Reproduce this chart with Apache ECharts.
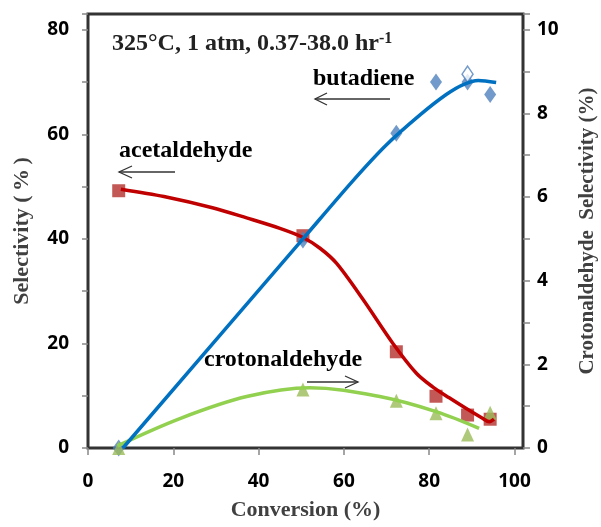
<!DOCTYPE html>
<html>
<head>
<meta charset="utf-8">
<script src="https://cdn.jsdelivr.net/npm/echarts@6/dist/echarts.min.js"></script>
<style>html,body{margin:0;padding:0;background:#fff;}#c{width:601px;height:527px;}</style>
</head>
<body>
<div id="c"></div>
<script>
// measured points
var conversion = [7.2, 50.4, 72.3, 81.6, 89, 94.3];
var acetaldehyde = [49.2, 40.6, 18.4, 9.9, 6.3, 5.5];
var butadiene = [0, 39.8, 60.2, 70, 70, 67.6];
var butadieneRepeatX = [89];
var butadieneRepeat = [71.5];
var crotonaldehyde = [0, 1.4, 1.13, 0.83, 0.32, 0.84];

// fitted trend curves
var acetFitX = [7.7, 17.8, 29.4, 37.2, 45, 50.3, 54.4, 58.3, 64.5, 71.5, 77, 80.8, 84.7, 88.6, 92.5, 94.1, 95.2];
var acetFitY = [49.5, 48.1, 45.9, 44.0, 42.0, 40.3, 38.2, 35.3, 28.4, 20, 14.3, 11.7, 9.6, 7.6, 5.7, 5.0, 5.5];
var butaFitX = [8.2, 50.4, 62, 70, 78, 84, 88, 91.5, 95.7];
var butaFitY = [0, 40, 51, 58, 63.8, 67.6, 69.5, 70.3, 69.9];
var crotFitX = [6.9, 21.7, 37.2, 52, 68.4, 81.6, 91.7];
var crotFitY = [0.05, 0.71, 1.23, 1.44, 1.23, 0.87, 0.47];

var xTicks = [0, 20, 40, 60, 80, 100];
var yLeftTicks = [0, 20, 40, 60, 80];
var yRightTicks = [0, 2, 4, 6, 8, 10];

function zip(a, b) { return a.map(function (v, i) { return [v, b[i]]; }); }

var tickFont = { fontFamily: 'Open Sans', fontWeight: 'bold', fontSize: 19, color: '#000' };
var serif = '"Liberation Serif", "Times New Roman", serif';

var chart = echarts.init(document.getElementById('c'), null, { renderer: 'canvas' });
chart.setOption({
  animation: false,
  backgroundColor: '#fff',
  grid: { left: 88, right: 78, top: 14, bottom: 79, show: true, borderColor: '#333', borderWidth: 3,
    backgroundColor: 'transparent', containLabel: false, outerBoundsMode: 'none' },
  xAxis: {
    type: 'value', min: 0, max: 102, interval: 20,
    name: 'Conversion (%)', nameLocation: 'middle', nameGap: 51,
    nameTextStyle: { fontFamily: serif, fontWeight: 'bold', fontSize: 22, color: '#404040' },
    axisLine: { show: false },
    axisTick: { show: true, length: 7, lineStyle: { color: '#888', width: 1.5 } },
    axisLabel: Object.assign({ margin: 24, showMaxLabel: false, formatter: function (v) { return xTicks.indexOf(v) >= 0 ? String(v) : ''; } }, tickFont),
    splitLine: { show: false }
  },
  yAxis: [{
    type: 'value', min: 0, max: 83, interval: 10,
    name: 'Selectivity (\u2009%\u2009)', nameLocation: 'middle', nameGap: 55, nameRotate: 90,
    nameTextStyle: { fontFamily: serif, fontWeight: 'bold', fontSize: 22, color: '#404040' },
    axisLine: { show: false },
    axisTick: { show: true, length: 6, lineStyle: { color: '#888', width: 1.5 } },
    axisLabel: Object.assign({ margin: 19, formatter: function (v) { return yLeftTicks.indexOf(v) >= 0 ? String(v) : ''; } }, tickFont),
    splitLine: { show: false }
  }, {
    type: 'value', min: 0, max: 10.375, interval: 1, position: 'right',
    name: 'Crotonaldehyde  Selectivity (%)', nameLocation: 'middle', nameGap: 54, nameRotate: 90,
    nameTextStyle: { fontFamily: serif, fontWeight: 'bold', fontSize: 21, color: '#404040' },
    axisLine: { show: false },
    axisTick: { show: true, length: 7, lineStyle: { color: '#888', width: 1.5 } },
    axisLabel: Object.assign({ margin: 14, formatter: function (v) { return yRightTicks.indexOf(v) >= 0 ? String(v) : ''; } }, tickFont),
    splitLine: { show: false }
  }],
  series: [
    { name: 'acetaldehyde', type: 'scatter', data: zip(conversion, acetaldehyde), symbol: 'rect', symbolSize: 13, clip: false,
      itemStyle: { color: '#C0504D', opacity: 0.95 } },
    { name: 'acetaldehyde fit', type: 'line', data: zip(acetFitX, acetFitY), smooth: 0.3, showSymbol: false, clip: false,
      lineStyle: { color: '#C00000', width: 3.5 } },
    { name: 'butadiene', type: 'scatter', data: zip(conversion, butadiene), symbol: 'diamond', symbolSize: [12, 17], clip: false,
      itemStyle: { color: '#4F81BD' } },
    { name: 'butadiene repeat', type: 'scatter', data: zip(butadieneRepeatX, butadieneRepeat), symbol: 'diamond', symbolSize: [11, 16], clip: false,
      itemStyle: { color: '#fff', borderColor: '#4F81BD', borderWidth: 1.5 } },
    { name: 'crotonaldehyde fit', type: 'line', yAxisIndex: 1, data: zip(crotFitX, crotFitY), smooth: 0.35, showSymbol: false, clip: false,
      lineStyle: { color: '#92D050', width: 3.5 } },
    { name: 'crotonaldehyde', type: 'scatter', yAxisIndex: 1, data: zip(conversion, crotonaldehyde), symbol: 'triangle', symbolSize: [13, 14], clip: false,
      itemStyle: { color: '#9BBB59' } },
    { name: 'butadiene fit', type: 'line', data: zip(butaFitX, butaFitY), smooth: 0.3, showSymbol: false, clip: false,
      lineStyle: { color: '#0070C0', width: 3.5 } }
  ],
  graphic: [
    { type: 'text', left: 112, top: 31, z: 100,
      style: { text: '{m|325°C, 1 atm, 0.37-38.0 hr}{s|-1}', rich: {
        m: { fontFamily: serif, fontWeight: 'bold', fontSize: 24, lineHeight: 26, fill: '#222' },
        s: { fontFamily: serif, fontWeight: 'bold', fontSize: 16, lineHeight: 20, verticalAlign: 'top', fill: '#222' } } } },
    { type: 'text', x: 313, y: 79, z: 100, style: { text: 'butadiene', font: 'bold 24px ' + serif, fill: '#000', verticalAlign: 'middle' } },
    { type: 'text', x: 119, y: 151, z: 100, style: { text: 'acetaldehyde', font: 'bold 24px ' + serif, fill: '#000', verticalAlign: 'middle' } },
    { type: 'text', x: 204, y: 360, z: 100, style: { text: 'crotonaldehyde', font: 'bold 24px ' + serif, fill: '#000', verticalAlign: 'middle' } },
    { type: 'polyline', z: 100, shape: { points: [[390, 99], [315, 99]] }, style: { stroke: '#333', lineWidth: 1.3, fill: null } },
    { type: 'polyline', z: 100, shape: { points: [[327, 93], [315, 99], [327, 105]] }, style: { stroke: '#333', lineWidth: 1.3, fill: null } },
    { type: 'polyline', z: 100, shape: { points: [[175, 172], [119, 172]] }, style: { stroke: '#333', lineWidth: 1.3, fill: null } },
    { type: 'polyline', z: 100, shape: { points: [[132, 166], [119, 172], [132, 178]] }, style: { stroke: '#333', lineWidth: 1.3, fill: null } },
    { type: 'polyline', z: 100, shape: { points: [[307, 382], [358, 382]] }, style: { stroke: '#333', lineWidth: 1.3, fill: null } },
    { type: 'polyline', z: 100, shape: { points: [[345, 376], [358, 382], [345, 388]] }, style: { stroke: '#333', lineWidth: 1.3, fill: null } }
  ]
});
</script>
</body>
</html>
